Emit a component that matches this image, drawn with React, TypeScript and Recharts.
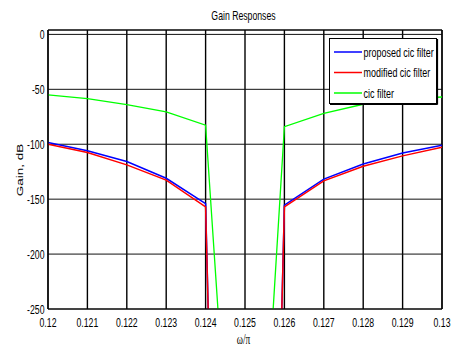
import { LineChart, Line, XAxis, YAxis, CartesianGrid, ReferenceLine, Legend } from "recharts";

// normalised frequency (ω/π) and gain in dB for each filter
const freq = [0.12, 0.121, 0.122, 0.123, 0.124, 0.1241, 0.1245, 0.125, 0.1255, 0.1259, 0.126, 0.127, 0.128, 0.129, 0.13];
const proposedGain = [-98.5, -106, -115.7, -131, -154, -300, null, null, null, -300, -155.5, -131.8, -118, -108, -101];
const modifiedGain = [-100, -107.5, -118.8, -132.7, -157, -300, null, null, null, -300, -157, -133.3, -120, -110.6, -102.7];
const cicGain = [-55, -58.5, -64, -70.6, -82.7, null, -350, null, -375, null, -84, -71.8, -63.6, -59, -57];

const seriesNames = ["proposed cic filter", "modified cic filter", "cic filter"];
const xTicks = [0.12, 0.121, 0.122, 0.123, 0.124, 0.125, 0.126, 0.127, 0.128, 0.129, 0.13];
const yTicks = [-250, -200, -150, -100, -50, 0];

const data = freq.map((f, i) => ({
  f,
  proposed: proposedGain[i],
  modified: modifiedGain[i],
  cic: cicGain[i],
}));

const SANS = "'Liberation Sans', Arial, sans-serif";
const SQUEEZE = 0.67;

function Narrow({ x, y, anchor = "start", size = 13, family = SANS, children }: any) {
  return (
    <g transform={`translate(${x},${y}) scale(${SQUEEZE},1)`}>
      <text x={0} y={0} textAnchor={anchor} fontSize={size} fontFamily={family} fill="#000">
        {children}
      </text>
    </g>
  );
}

const XTick = ({ x, y, payload }: any) => (
  <Narrow x={x} y={y + 17.5} anchor="middle">
    {String(payload.value)}
  </Narrow>
);

const YTick = ({ x, y, payload }: any) => (
  <Narrow x={x - 3.5} y={y + 5} anchor="end">
    {String(payload.value)}
  </Narrow>
);

// legend box in the upper right, entries in series order
const renderLegend = (props: any) => {
  const items = [...(props.payload ?? [])].sort(
    (a: any, b: any) => seriesNames.indexOf(a.value) - seriesNames.indexOf(b.value)
  );
  return (
    <svg width={112} height={70} style={{ display: "block" }}>
      <rect x={1.5} y={1.5} width={107} height={65} fill="#fff" stroke="#000" strokeWidth={1} />
      <line x1={2} y1={67.5} x2={109.5} y2={67.5} stroke="#000" strokeWidth={1.2} />
      <line x1={109.5} y1={2} x2={109.5} y2={67.5} stroke="#000" strokeWidth={1.2} />
      {items.map((it: any, i: number) => {
        const cy = 15 + i * 20.5;
        return (
          <g key={it.value}>
            <line x1={6} x2={34} y1={cy} y2={cy} stroke={it.color} strokeWidth={1.5} />
            <g transform={`translate(35.5,${cy + 4.5}) scale(0.69,1)`}>
              <text x={0} y={0} fontSize={13} fontFamily={SANS} fill="#000">
                {it.value}
              </text>
            </g>
          </g>
        );
      })}
    </svg>
  );
};

export default function App() {
  return (
    <div style={{ position: "absolute", left: 0, top: 0, width: 451, height: 349, background: "#fff" }}>
      <LineChart width={451} height={349} data={data} margin={{ top: 30, right: 9, bottom: 0, left: 0 }}>
        <CartesianGrid horizontal={false} stroke="#000" strokeWidth={1.4} />
        <CartesianGrid vertical={false} stroke="#111" strokeWidth={1} />
        <XAxis
          dataKey="f"
          type="number"
          domain={[0.12, 0.13]}
          ticks={xTicks}
          height={40}
          tickSize={0}
          tickMargin={0}
          tickLine={false}
          axisLine={{ stroke: "#000", strokeWidth: 1.2 }}
          tick={<XTick />}
          interval={0}
          allowDataOverflow
        />
        <YAxis
          type="number"
          domain={[-250, 4]}
          ticks={yTicks}
          width={48}
          tickSize={0}
          tickMargin={0}
          tickLine={false}
          axisLine={{ stroke: "#000", strokeWidth: 1.2 }}
          tick={<YTick />}
          interval={0}
          allowDataOverflow
        />
        <ReferenceLine y={4} stroke="#000" strokeWidth={1.2} />
        <ReferenceLine x={0.13} stroke="#000" strokeWidth={1.2} />
        <Legend
          layout="vertical"
          align="center"
          verticalAlign="middle"
          content={renderLegend}
          wrapperStyle={{ position: "absolute", left: 328, top: 37, width: 112, height: 70 }}
        />
        <Line
          name={seriesNames[0]}
          dataKey="proposed"
          stroke="#0000ff"
          strokeWidth={1.5}
          dot={false}
          type="linear"
          isAnimationActive={false}
        />
        <Line
          name={seriesNames[1]}
          dataKey="modified"
          stroke="#ff0000"
          strokeWidth={1.5}
          dot={false}
          type="linear"
          isAnimationActive={false}
        />
        <Line
          name={seriesNames[2]}
          dataKey="cic"
          stroke="#00ff00"
          strokeWidth={1.3}
          dot={false}
          type="linear"
          connectNulls
          isAnimationActive={false}
        />
      </LineChart>
      <svg width={451} height={349} style={{ position: "absolute", left: 0, top: 0, pointerEvents: "none" }}>
        <Narrow x={243.5} y={20} anchor="middle">
          Gain Responses
        </Narrow>
        <g transform={`translate(23,170) scale(${SQUEEZE},1) rotate(-90)`}>
          <text x={0} y={0} textAnchor="middle" fontSize={13.5} fontFamily={SANS} fill="#000">
            Gain, dB
          </text>
        </g>
        <Narrow x={243.5} y={344} anchor="middle" size={14} family="'Liberation Serif', 'Times New Roman', serif">
          ω/π
        </Narrow>
      </svg>
    </div>
  );
}
